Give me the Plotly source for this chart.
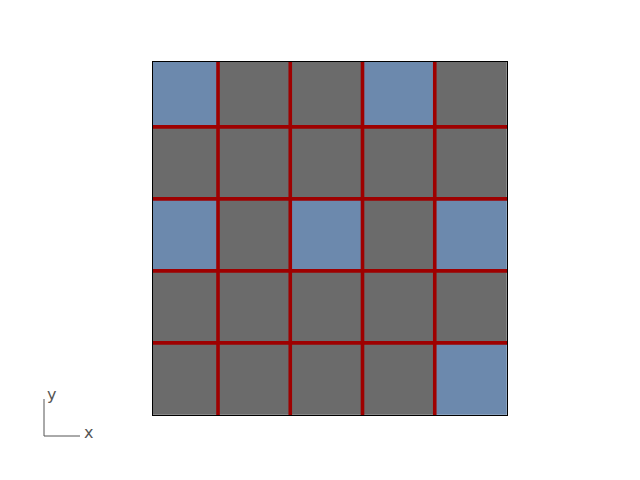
import plotly.graph_objects as go

# cell types per row (top to bottom): 1 = blue cell, 0 = gray cell
cell_rows = [
    [1, 0, 0, 1, 0],
    [0, 0, 0, 0, 0],
    [1, 0, 1, 0, 1],
    [0, 0, 0, 0, 0],
    [0, 0, 0, 0, 1],
]
col_idx = [0, 1, 2, 3, 4]
row_idx = [0, 1, 2, 3, 4]

# wall positions
wall_pos = [0.5, 1.5, 2.5, 3.5]
x_range = [-0.4, 4.5]
y_range = [4.5, -0.4]

BLUE = "#6c89ad"
GRAY = "#6b6b6b"
RED = "#9e0000"

fig = go.Figure()
fig.add_trace(go.Heatmap(
    z=cell_rows, x=col_idx, y=row_idx,
    colorscale=[[0, GRAY], [1, BLUE]], zmin=0, zmax=1,
    showscale=False, hoverinfo="skip", xgap=0, ygap=0,
))

# walls: horizontal and vertical lines
for p in wall_pos:
    fig.add_trace(go.Scatter(x=x_range, y=[p, p], mode="lines",
                             line=dict(color=RED, width=3.8), hoverinfo="skip", showlegend=False))
    fig.add_trace(go.Scatter(x=[p, p], y=[y_range[1], y_range[0]], mode="lines",
                             line=dict(color=RED, width=3.6), hoverinfo="skip", showlegend=False))

fig.update_xaxes(range=x_range, showgrid=False, zeroline=False, showticklabels=False,
                 ticks="", showline=True, mirror=True, linecolor="black", linewidth=1.2)
fig.update_yaxes(range=y_range, showgrid=False, zeroline=False, showticklabels=False,
                 ticks="", showline=True, mirror=True, linecolor="black", linewidth=1.2)

W, H = 640, 480
L, R, T, B = 153, 133, 62, 65
pw, ph = W - L - R, H - T - B

def px(xp):
    return (xp - L) / pw

def py(yp):
    return (H - B - yp) / ph

axc = "#555555"
fig.add_shape(type="line", xref="paper", yref="paper", x0=px(44), x1=px(44), y0=py(399), y1=py(436),
              line=dict(color=axc, width=1))
fig.add_shape(type="line", xref="paper", yref="paper", x0=px(44), x1=px(80), y0=py(436), y1=py(436),
              line=dict(color=axc, width=1))
fig.add_annotation(xref="paper", yref="paper", x=px(51), y=py(394), text="y", showarrow=False,
                   xanchor="center", yanchor="middle",
                   font=dict(family="DejaVu Sans", size=16, color=axc))
fig.add_annotation(xref="paper", yref="paper", x=px(88), y=py(432), text="x", showarrow=False,
                   xanchor="center", yanchor="middle",
                   font=dict(family="DejaVu Sans", size=16, color=axc))

fig.update_layout(width=W, height=H, margin=dict(l=L, r=R, t=T, b=B),
                  paper_bgcolor="white", plot_bgcolor="white", showlegend=False)
fig.write_html("out.html")
